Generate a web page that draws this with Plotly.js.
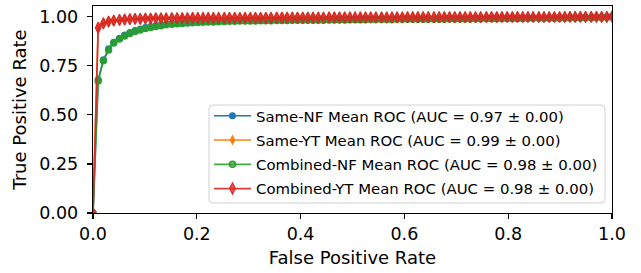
<!DOCTYPE html>
<html>
<head>
<meta charset="utf-8">
<script src="https://cdn.plot.ly/plotly-3.0.1.min.js"></script>
<style>html,body{margin:0;padding:0;background:#fff;}#chart{width:641px;height:273px;}</style>
</head>
<body>
<div id="chart"></div>
<script>
var fpr = [0.000,0.010,0.020,0.030,0.040,0.051,0.061,0.071,0.081,0.091,
0.101,0.111,0.121,0.131,0.141,0.152,0.162,0.172,0.182,0.192,
0.202,0.212,0.222,0.232,0.242,0.253,0.263,0.273,0.283,0.293,
0.303,0.313,0.323,0.333,0.343,0.354,0.364,0.374,0.384,0.394,
0.404,0.414,0.424,0.434,0.444,0.455,0.465,0.475,0.485,0.495,
0.505,0.515,0.525,0.535,0.545,0.556,0.566,0.576,0.586,0.596,
0.606,0.616,0.626,0.636,0.646,0.657,0.667,0.677,0.687,0.697,
0.707,0.717,0.727,0.737,0.747,0.758,0.768,0.778,0.788,0.798,
0.808,0.818,0.828,0.838,0.848,0.859,0.869,0.879,0.889,0.899,
0.909,0.919,0.929,0.939,0.949,0.960,0.970,0.980,0.990,1.000];

var tprSameNF = [0,0.680,0.780,0.836,0.870,0.890,0.906,0.919,0.929,0.937,
0.944,0.950,0.955,0.959,0.962,0.965,0.967,0.969,0.971,0.972,
0.974,0.975,0.976,0.977,0.978,0.978,0.979,0.980,0.980,0.981,
0.981,0.982,0.982,0.982,0.983,0.983,0.983,0.984,0.984,0.984,
0.985,0.985,0.985,0.985,0.986,0.986,0.986,0.986,0.987,0.987,
0.987,0.987,0.987,0.988,0.988,0.988,0.988,0.988,0.989,0.989,
0.989,0.989,0.989,0.989,0.990,0.990,0.990,0.990,0.990,0.990,
0.991,0.991,0.991,0.991,0.991,0.991,0.992,0.992,0.992,0.992,
0.992,0.992,0.993,0.993,0.993,0.993,0.993,0.994,0.994,0.994,
0.994,0.995,0.995,0.995,0.996,0.996,0.997,0.997,0.998,1.000];

var tprSameYT = [0,0.946,0.968,0.977,0.982,0.985,0.987,0.988,0.989,0.990,
0.991,0.991,0.992,0.992,0.992,0.993,0.993,0.993,0.993,0.994,
0.994,0.994,0.994,0.994,0.995,0.995,0.995,0.995,0.995,0.995,
0.996,0.996,0.996,0.996,0.996,0.996,0.996,0.996,0.996,0.996,
0.997,0.997,0.997,0.997,0.997,0.997,0.997,0.997,0.997,0.997,
0.997,0.997,0.997,0.997,0.997,0.998,0.998,0.998,0.998,0.998,
0.998,0.998,0.998,0.998,0.998,0.998,0.998,0.998,0.998,0.998,
0.998,0.998,0.998,0.998,0.998,0.999,0.999,0.999,0.999,0.999,
0.999,0.999,0.999,0.999,0.999,0.999,0.999,0.999,0.999,0.999,
0.999,0.999,0.999,0.999,0.999,0.999,0.999,0.999,0.999,1.000];

var tprCombNF = [0,0.672,0.775,0.830,0.866,0.886,0.901,0.914,0.924,0.932,
0.939,0.945,0.950,0.954,0.958,0.961,0.963,0.965,0.967,0.969,
0.970,0.971,0.972,0.973,0.974,0.975,0.976,0.976,0.977,0.977,
0.978,0.978,0.979,0.979,0.979,0.980,0.980,0.980,0.981,0.981,
0.981,0.982,0.982,0.982,0.982,0.983,0.983,0.983,0.983,0.984,
0.984,0.984,0.984,0.985,0.985,0.985,0.985,0.985,0.986,0.986,
0.986,0.986,0.986,0.987,0.987,0.987,0.987,0.987,0.988,0.988,
0.988,0.988,0.988,0.989,0.989,0.989,0.989,0.989,0.990,0.990,
0.990,0.990,0.990,0.991,0.991,0.991,0.991,0.992,0.992,0.992,
0.992,0.993,0.993,0.993,0.994,0.994,0.995,0.996,0.997,1.000];

var tprCombYT = [0,0.943,0.965,0.975,0.980,0.983,0.985,0.987,0.988,0.989,
0.990,0.990,0.991,0.991,0.991,0.992,0.992,0.992,0.992,0.993,
0.993,0.993,0.993,0.993,0.993,0.994,0.994,0.994,0.994,0.994,
0.994,0.994,0.994,0.994,0.994,0.995,0.995,0.995,0.995,0.995,
0.995,0.995,0.995,0.995,0.995,0.996,0.996,0.996,0.996,0.996,
0.996,0.996,0.996,0.996,0.996,0.996,0.996,0.996,0.996,0.996,
0.997,0.997,0.997,0.997,0.997,0.997,0.997,0.997,0.997,0.997,
0.997,0.997,0.997,0.997,0.997,0.998,0.998,0.998,0.998,0.998,
0.998,0.998,0.998,0.998,0.998,0.998,0.998,0.998,0.998,0.998,
0.999,0.999,0.999,0.999,0.999,0.999,0.999,0.999,0.999,1.000];

var seriesNames = [
  'Same-NF Mean ROC (AUC = 0.97 ± 0.00)',
  'Same-YT Mean ROC (AUC = 0.99 ± 0.00)',
  'Combined-NF Mean ROC (AUC = 0.98 ± 0.00)',
  'Combined-YT Mean ROC (AUC = 0.98 ± 0.00)'
];
var xTicks = [0, 0.2, 0.4, 0.6, 0.8, 1.0];
var yTicks = [0, 0.25, 0.5, 0.75, 1.0];

var font = 'DejaVu Sans, sans-serif';

var traces = [
  {x: fpr, y: tprSameNF, name: seriesNames[0], legendgroup: 'a', mode: 'lines+markers',
   line: {color: '#1f77b4', width: 1.5},
   marker: {symbol: 'circle', size: 7, color: '#1f77b4'}},
  {x: fpr, y: tprSameYT, name: seriesNames[1], legendgroup: 'b', mode: 'lines+markers',
   line: {color: '#ff7f0e', width: 1.5},
   marker: {symbol: 'diamond-tall', size: 8, color: '#ff7f0e'}},
  {x: fpr, y: tprCombNF, name: seriesNames[2], legendgroup: 'c', mode: 'lines+markers',
   line: {color: 'rgba(44,160,44,0.9)', width: 1.8},
   marker: {symbol: 'circle', size: 6, color: 'rgba(44,160,44,0.6)', line: {color: '#2ca02c', width: 1.5}}},
  {x: fpr, y: tprCombYT, name: seriesNames[3], legendgroup: 'd', mode: 'lines+markers',
   line: {color: 'rgba(214,39,40,0.9)', width: 1.8},
   marker: {symbol: 'diamond-tall', size: 8, color: 'rgba(214,39,40,0.75)', line: {color: '#d62728', width: 1.2}}}
];

// legend frame (rounded box like matplotlib), in paper coordinates
var bx0 = 0.2235, bx1 = 0.9865, by0 = 0.0483, by1 = 0.5217, rx = 0.0077, ry = 0.0193;
var framePath = 'M' + (bx0 + rx) + ',' + by1 +
  ' L' + (bx1 - rx) + ',' + by1 + ' Q' + bx1 + ',' + by1 + ' ' + bx1 + ',' + (by1 - ry) +
  ' L' + bx1 + ',' + (by0 + ry) + ' Q' + bx1 + ',' + by0 + ' ' + (bx1 - rx) + ',' + by0 +
  ' L' + (bx0 + rx) + ',' + by0 + ' Q' + bx0 + ',' + by0 + ' ' + bx0 + ',' + (by0 + ry) +
  ' L' + bx0 + ',' + (by1 - ry) + ' Q' + bx0 + ',' + by1 + ' ' + (bx0 + rx) + ',' + by1 + ' Z';

var layout = {
  width: 641, height: 273,
  margin: {l: 93, r: 29, t: 6, b: 60, pad: 0},
  paper_bgcolor: '#ffffff', plot_bgcolor: '#ffffff',
  font: {family: font, color: '#000000', size: 17},
  showlegend: true,
  legend: {
    x: 0.2235, y: 0.548, xanchor: 'left', yanchor: 'top',
    bgcolor: 'rgba(0,0,0,0)', borderwidth: 0,
    font: {family: font, size: 14.9, color: '#000000'},
    itemwidth: 37,
    traceorder: 'grouped', tracegroupgap: 1.9
  },
  shapes: [{
    type: 'path', xref: 'paper', yref: 'paper', layer: 'above',
    path: framePath,
    fillcolor: 'rgba(255,255,255,0.8)',
    line: {color: '#d0d0d0', width: 1}
  }],
  xaxis: {
    range: [0, 1], tickvals: xTicks, ticktext: xTicks.map(function(v){return v.toFixed(1);}),
    showgrid: false, zeroline: false,
    showline: true, linecolor: '#000000', linewidth: 1.3, mirror: true,
    ticks: 'outside', ticklen: 5, tickwidth: 1.2, tickcolor: '#000000',
    tickfont: {family: font, size: 17.5, color: '#000000'},
    title: {text: 'False Positive Rate', font: {family: font, size: 18, color: '#000000'}, standoff: 8},
    automargin: false
  },
  yaxis: {
    range: [0, 1.054], tickvals: yTicks, ticktext: yTicks.map(function(v){return v.toFixed(2);}),
    showgrid: false, zeroline: false,
    showline: true, linecolor: '#000000', linewidth: 1.3, mirror: true,
    ticks: 'outside', ticklen: 5, tickwidth: 1.2, tickcolor: '#000000',
    ticklabelstandoff: 5,
    tickfont: {family: font, size: 17.5, color: '#000000'},
    title: {text: 'True Positive Rate', font: {family: font, size: 18, color: '#000000'}, standoff: 8},
    automargin: false
  }
};

Plotly.newPlot('chart', traces, layout, {displayModeBar: false, staticPlot: true});
</script>
</body>
</html>
